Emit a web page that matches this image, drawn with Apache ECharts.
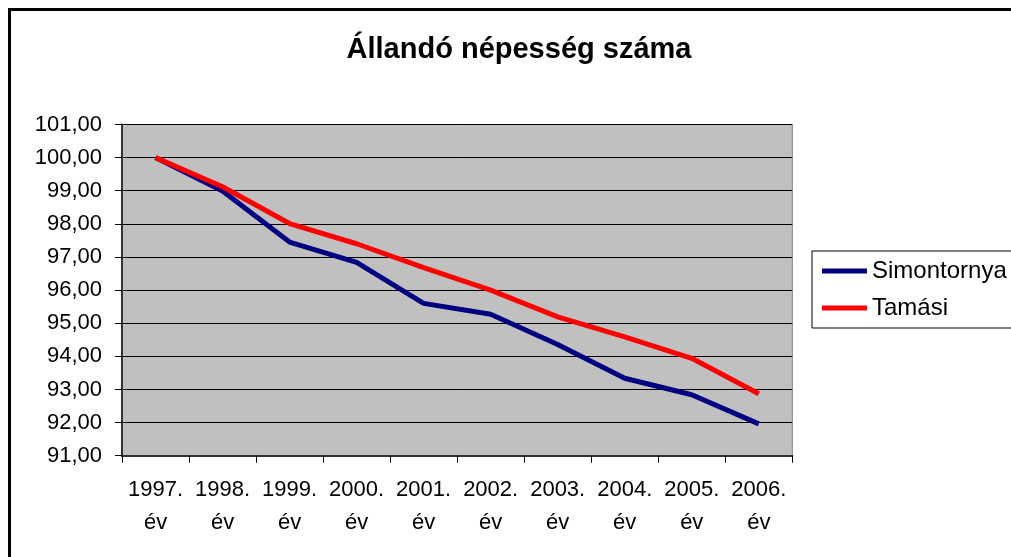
<!DOCTYPE html>
<html>
<head>
<meta charset="utf-8">
<script src="https://cdn.jsdelivr.net/npm/echarts@6/dist/echarts.min.js"></script>
<style>
  html, body { margin: 0; padding: 0; background: #fff; }
  #chart { width: 1011px; height: 557px; }
</style>
</head>
<body>
<div id="chart"></div>
<script>
// évek
const years = ['1997.\név', '1998.\név', '1999.\név', '2000.\név', '2001.\név',
  '2002.\név', '2003.\név', '2004.\név', '2005.\név', '2006.\név']
// Simontornya (1997 = 100)
const simontornya = [100.0, 98.99, 97.45, 96.84, 95.60, 95.27, 94.36, 93.34, 92.84, 91.96]
// Tamási
const tamasi = [100.0, 99.12, 98.01, 97.40, 96.68, 96.0, 95.19, 94.59, 93.94, 92.87]

const font = 'Liberation Sans, Arial, sans-serif'

const chart = echarts.init(document.getElementById('chart'))
const option = {
  animation: false,
  textStyle: { fontFamily: font },
  title: {
    text: 'Állandó népesség száma',
    left: 514,
    top: 30,
    textAlign: 'center',
    textStyle: { fontSize: 29, fontWeight: 'bold', color: '#000', fontFamily: font }
  },
  legend: {
    orient: 'vertical',
    left: 812,
    top: 251,
    padding: [7, 40, 7, 10],
    itemGap: 11,
    itemWidth: 45,
    itemHeight: 5,
    icon: 'rect',
    borderColor: '#000',
    borderWidth: 1,
    textStyle: { fontSize: 24, color: '#000', lineHeight: 26, fontFamily: font },
    data: ['Simontornya', 'Tamási']
  },
  grid: {
    left: 122,
    top: 124.5,
    right: 218.7,
    bottom: 101.3,
    show: true,
    backgroundColor: '#c0c0c0',
    borderColor: '#808080',
    borderWidth: 1
  },
  xAxis: {
    type: 'category',
    data: years,
    boundaryGap: true,
    axisLine: { lineStyle: { color: '#333', width: 2 } },
    axisTick: { show: true, length: 7, lineStyle: { color: '#000' } },
    axisLabel: {
      margin: 18,
      fontSize: 22,
      lineHeight: 33,
      color: '#000',
      fontFamily: font,
      interval: 0
    },
    splitLine: { show: false }
  },
  yAxis: {
    type: 'value',
    min: 91,
    max: 101,
    interval: 1,
    axisLine: { show: true, lineStyle: { color: '#333', width: 2 } },
    axisTick: { show: true, length: 7, lineStyle: { color: '#000' } },
    axisLabel: {
      margin: 20,
      fontSize: 22,
      color: '#000',
      fontFamily: font,
      formatter: v => v.toFixed(2).replace('.', ',')
    },
    splitLine: { show: true, lineStyle: { color: '#000', width: 1 } }
  },
  series: [
    {
      name: 'Simontornya',
      type: 'line',
      data: simontornya,
      symbol: 'none',
      lineStyle: { color: '#000080', width: 5 },
      itemStyle: { color: '#000080' }
    },
    {
      name: 'Tamási',
      type: 'line',
      data: tamasi,
      symbol: 'none',
      lineStyle: { color: '#ff0000', width: 5 },
      itemStyle: { color: '#ff0000' }
    }
  ],
  graphic: [
    {
      type: 'rect',
      shape: { x: 9.5, y: 9.5, width: 1100, height: 600 },
      style: { fill: 'none', stroke: '#000', lineWidth: 3 },
      silent: true
    }
  ]
}
chart.setOption(option)
</script>
</body>
</html>
